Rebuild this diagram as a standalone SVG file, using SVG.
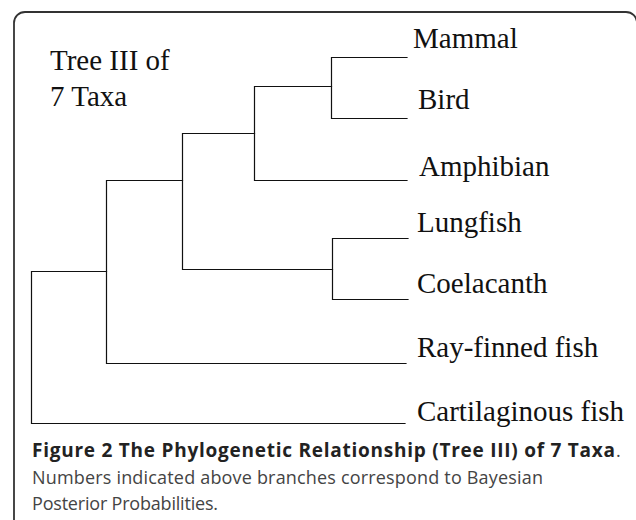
<svg xmlns="http://www.w3.org/2000/svg" width="636" height="520" viewBox="0 0 636 520">
<style>
.frame{fill:none;stroke:#333;stroke-width:1.8}
.br{fill:none;stroke:#111;stroke-width:1.2;stroke-linecap:square}
.tx{font-family:"Liberation Serif","Times New Roman",serif;font-size:29px;fill:#111}
.cap{font-family:"Open Sans","Noto Sans",sans-serif;font-size:18px}
.capb{font-weight:bold;fill:#222;font-size:19px}
.capr{fill:#444}
</style>
<rect class="frame" x="14" y="12" width="623" height="540" rx="11" ry="11"/>
<g id="title">
<text class="tx" x="50" y="70">Tree III of</text>
<text class="tx" x="50" y="106">7 Taxa</text>
</g>
<g id="connectors">
<path class="br" d="M331.5,57.5 V118.5 M331.5,57.5 H407 M331.5,118.5 H407"/>
<path class="br" d="M254.5,86.5 V180.5 M254.5,86.5 H331.5 M254.5,180.5 H407"/>
<path class="br" d="M332.5,238.5 V299.5 M332.5,238.5 H408 M332.5,299.5 H408"/>
<path class="br" d="M182.5,133.5 V269.5 M182.5,133.5 H254.5 M182.5,269.5 H332.5"/>
<path class="br" d="M106.5,180.5 V363.5 M106.5,180.5 H182.5 M106.5,363.5 H406"/>
<path class="br" d="M31.5,271.5 V423.5 M31.5,271.5 H106.5 M31.5,423.5 H405"/>
</g>
<g id="mammal"><text class="tx" x="413" y="48">Mammal</text></g>
<g id="bird"><text class="tx" x="418" y="109">Bird</text></g>
<g id="amphibian"><text class="tx" x="419" y="176">Amphibian</text></g>
<g id="lungfish"><text class="tx" x="417" y="232">Lungfish</text></g>
<g id="coelacanth"><text class="tx" x="417" y="293">Coelacanth</text></g>
<g id="rayfinned"><text class="tx" x="417" y="357">Ray-finned fish</text></g>
<g id="cartilaginous"><text class="tx" x="417" y="421">Cartilaginous fish</text></g>
<g id="caption">
<text class="cap capb" x="32" y="457" textLength="583">Figure 2 The Phylogenetic Relationship (Tree III) of 7 Taxa</text>
<text class="cap capr" x="616" y="457">.</text>
<text class="cap capr" x="32" y="484" textLength="511">Numbers indicated above branches correspond to Bayesian</text>
<text class="cap capr" x="32" y="510" textLength="186">Posterior Probabilities.</text>
</g>
</svg>
